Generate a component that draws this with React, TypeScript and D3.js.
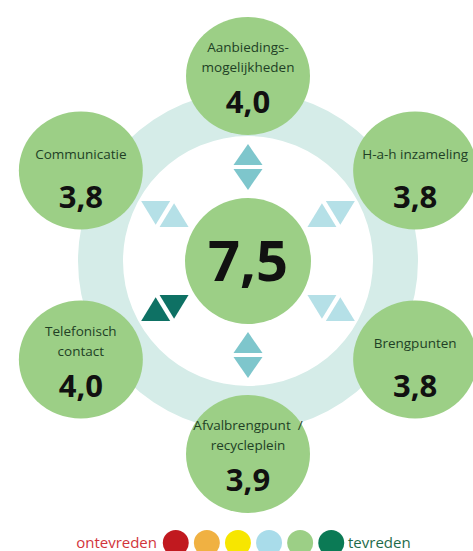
import React, { useRef, useEffect } from 'react';
import * as d3 from 'd3';

// categories clockwise from the top
const categories = ['Aanbiedings-|mogelijkheden', 'H-a-h inzameling', 'Brengpunten', 'Afvalbrengpunt  /|recycleplein', 'Telefonisch|contact', 'Communicatie'];
const scores = [4.0, 3.8, 3.8, 3.9, 4.0, 3.8];
const trends = ['mid', 'light', 'light', 'mid', 'dark', 'light'];
const overall = 7.5;
const legendLabels = ['ontevreden', 'tevreden'];
const legendColors = ['#c1191f', '#f0b142', '#f7e600', '#a9dcea', '#9ccf86', '#0b7a55'];

const trendColor: Record<string, string> = { mid: '#7ec6cc', light: '#b5e0e7', dark: '#0e7164' };

const App = () => {
    const svgRef = useRef<SVGSVGElement>(null);

    useEffect(() => {
        document.body.style.margin = '0';
        const w = 473;
        const h = 551;
        const svg = d3.select(svgRef.current).attr('width', w).attr('height', h);
        svg.selectAll('*').remove();

        const hub = { x: 248, y: 261 };
        const fmt = (v: number) => d3.format('.1f')(v).replace('.', ',');

        // angle per category, 0 = top, clockwise
        const angle = d3.scaleLinear().domain([0, categories.length]).range([0, 360]);
        const rad = (i: number) => (angle(i) * Math.PI) / 180;
        const outerX = (i: number) => hub.x + 193 * Math.sin(rad(i));
        const outerY = (i: number) => hub.y + 4 - 189 * Math.cos(rad(i));

        // ring
        const arc = d3.arc().innerRadius(125).outerRadius(170).startAngle(0).endAngle(2 * Math.PI);
        svg.append('path')
            .attr('d', arc({} as any) as string)
            .attr('transform', `translate(${hub.x},${hub.y})`)
            .attr('fill', '#d5ece8');

        // trend triangles (equilateral; the vertical pairs are a bit flatter in the original)
        const tw = 29, th = tw * Math.sqrt(3) / 2, gap = 4.5;
        const upTri = d3.line()([[0, -gap / 2 - th], [-tw / 2, -gap / 2], [tw / 2, -gap / 2]]) + 'Z';
        const downTri = d3.line()([[-tw / 2, gap / 2], [tw / 2, gap / 2], [0, gap / 2 + th]]) + 'Z';
        const pairs = svg.selectAll('g.pair')
            .data(categories)
            .join('g')
            .attr('class', 'pair')
            .attr('transform', (d, i) => {
                const px = hub.x + 96 * Math.sin(rad(i));
                const py = hub.y - 94 * Math.cos(rad(i));
                const sy = i % 3 === 0 ? 0.84 : 0.95;
                return `translate(${px},${py}) scale(1,${sy}) rotate(${angle(i)})`;
            })
            .attr('fill', (d, i) => trendColor[trends[i]]);
        pairs.append('path').attr('d', upTri);
        pairs.append('path').attr('d', downTri);

        // center circle
        svg.append('circle')
            .attr('cx', hub.x).attr('cy', hub.y).attr('r', 63)
            .attr('fill', '#9ccf86');
        svg.append('text')
            .attr('x', hub.x).attr('y', hub.y + 20)
            .attr('text-anchor', 'middle')
            .style('font-family', 'Open Sans')
            .style('font-weight', 700)
            .style('font-size', '56px')
            .attr('fill', '#111')
            .text(fmt(overall));

        // outer circles
        const nodes = svg.selectAll('g.node')
            .data(categories)
            .join('g')
            .attr('class', 'node')
            .attr('transform', (d, i) => `translate(${outerX(i)},${outerY(i)})`);

        nodes.append('ellipse')
            .attr('rx', 62).attr('ry', 59)
            .attr('fill', '#9ccf86');

        nodes.each(function (d, i) {
            const g = d3.select(this);
            const lines = d.split('|');
            const start = lines.length === 1 ? -12 : -24;
            lines.forEach((ln, k) => {
                g.append('text')
                    .attr('x', 0).attr('y', start + k * 20)
                    .attr('text-anchor', 'middle')
                    .style('font-family', 'Open Sans')
                    .style('font-size', '13.5px')
                    .style('white-space', 'pre')
                    .attr('fill', '#213f25')
                    .text(ln);
            });
            g.append('text')
                .attr('x', 0).attr('y', 37)
                .attr('text-anchor', 'middle')
                .style('font-family', 'Open Sans')
                .style('font-weight', 700)
                .style('font-size', '31px')
                .attr('fill', '#111')
                .text(fmt(scores[i]));
        });

        // legend
        const lx = d3.scaleBand<number>()
            .domain(d3.range(legendColors.length))
            .range([163, 344])
            .paddingInner(0.18);
        svg.selectAll('circle.leg')
            .data(legendColors)
            .join('circle')
            .attr('class', 'leg')
            .attr('cx', (d, i) => (lx(i) as number) + lx.bandwidth() / 2)
            .attr('cy', 543)
            .attr('r', 13)
            .attr('fill', d => d);
        svg.append('text')
            .attr('x', 157).attr('y', 548)
            .attr('text-anchor', 'end')
            .style('font-family', 'Open Sans')
            .style('font-size', '15px')
            .attr('fill', '#d2343a')
            .text(legendLabels[0]);
        svg.append('text')
            .attr('x', 348).attr('y', 548)
            .style('font-family', 'Open Sans')
            .style('font-size', '15px')
            .attr('fill', '#1f6b4a')
            .text(legendLabels[1]);
    }, []);

    return (
        <div>
            <svg ref={svgRef} style={{ display: 'block' }}></svg>
        </div>
    );
};

export default App;
